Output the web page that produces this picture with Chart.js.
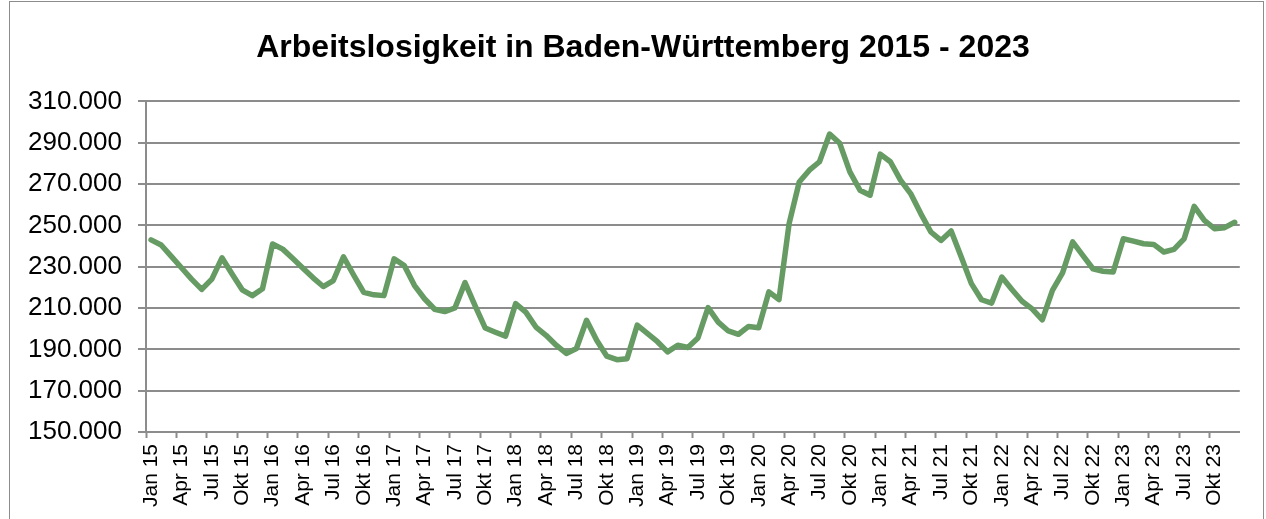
<!DOCTYPE html>
<html>
<head>
<meta charset="utf-8">
<script src="https://cdn.jsdelivr.net/npm/chart.js@4/dist/chart.umd.min.js"></script>
<style>
  body { margin: 0; background: #fff; }
  #rahmen { position: absolute; left: 9px; top: 1px; width: 1253px; height: 530px; border: 1px solid #8c8c8c; }
  #wrap { position: absolute; left: 0; top: 0; width: 1266px; height: 519px; }
</style>
</head>
<body>
<div id="rahmen"></div>
<div id="wrap"><canvas id="myChart" width="1266" height="519"></canvas></div>
<script>
// Monate und Jahre für die Kategorien
var monate = ['Jan', 'Feb', 'Mär', 'Apr', 'Mai', 'Jun', 'Jul', 'Aug', 'Sep', 'Okt', 'Nov', 'Dez'];
var jahre = ['15', '16', '17', '18', '19', '20', '21', '22', '23'];

// Arbeitslose pro Monat
var werte2015 = [243000, 240500, 235000, 229500, 224000, 219000, 224000, 234300, 226500, 218800, 216000, 219300];
var werte2016 = [241000, 238500, 234000, 229300, 224600, 220400, 223300, 234800, 226000, 217600, 216400, 216000];
var werte2017 = [233800, 230600, 221000, 214500, 209400, 208300, 210000, 222300, 211000, 200300, 198300, 196400];
var werte2018 = [212100, 208000, 200800, 196800, 192000, 188000, 190400, 204100, 194400, 186700, 185000, 185500];
var werte2019 = [201700, 197700, 193700, 188800, 192000, 190900, 195500, 210200, 203200, 198900, 197300, 201100];
var werte2020 = [200500, 217800, 214100, 250800, 271000, 276700, 280800, 294200, 289700, 275900, 267000, 264600];
var werte2021 = [284500, 280800, 271900, 265400, 255700, 246800, 242700, 247300, 234700, 221800, 214000, 212400];
var werte2022 = [225000, 219000, 213300, 209600, 204300, 218500, 227000, 242000, 235500, 229000, 227800, 227400];
var werte2023 = [243500, 242400, 241100, 240800, 237100, 238400, 243500, 259200, 252400, 248400, 248900, 251500];

// y-Achse
var yMin = 150000;
var yMax = 310000;
var yStep = 20000;

var labels = [];
jahre.forEach(function (j) {
  monate.forEach(function (m) { labels.push(m + ' ' + j); });
});
var werte = [].concat(werte2015, werte2016, werte2017, werte2018, werte2019,
  werte2020, werte2021, werte2022, werte2023);

function tausender(v) {
  return String(v).replace(/\B(?=(\d{3})+(?!\d))/g, '.');
}

var grau = '#8c8c8c';
var schrift = 'Liberation Sans, Arial, sans-serif';

// Titel etwas nach rechts schieben (wie im Original)
var titelVersatz = {
  id: 'titelVersatz',
  afterLayout: function (chart) {
    var t = chart.titleBlock;
    if (t) { t.left += 38; t.width = t.right - t.left; }
  }
};

var data = {
  labels: labels,
  datasets: [{
    label: 'Arbeitslose',
    data: werte,
    borderColor: 'rgb(102,155,100)',
    backgroundColor: 'rgb(102,155,100)',
    borderWidth: 5.5,
    tension: 0,
    pointRadius: 0,
    borderJoinStyle: 'round',
    borderCapStyle: 'round'
  }]
};

var options = {
  responsive: false,
  animation: false,
  layout: { padding: { top: 0, right: 18, bottom: 0, left: 0 } },
  plugins: {
    legend: { display: false },
    tooltip: { enabled: false },
    title: {
      display: true,
      text: 'Arbeitslosigkeit in Baden-Württemberg 2015 - 2023',
      color: '#000',
      font: { family: schrift, size: 32, weight: 'bold', lineHeight: 1.2 },
      padding: { top: 29, bottom: 34 }
    }
  },
  scales: {
    x: {
      offset: true,
      grid: {
        offset: true,
        drawOnChartArea: false,
        drawTicks: true,
        tickLength: 6,
        tickWidth: 2,
        tickColor: function (ctx) { return ctx.index % 3 === 0 ? grau : 'rgba(0,0,0,0)'; }
      },
      border: { color: grau, width: 2 },
      ticks: {
        autoSkip: false,
        minRotation: 90,
        maxRotation: 90,
        padding: 6,
        color: '#000',
        font: { family: schrift, size: 21 },
        callback: function (val, i) { return i % 3 === 0 ? labels[i] : ''; }
      },
      afterFit: function (s) { s.height = 87; }
    },
    y: {
      min: yMin,
      max: yMax,
      grid: { color: grau, lineWidth: 2, tickLength: 8 },
      border: { color: grau, width: 2 },
      ticks: {
        stepSize: yStep,
        padding: 16,
        color: '#000',
        font: { family: schrift, size: 26 },
        callback: function (v) { return tausender(v); }
      },
      afterFit: function (s) { s.width = 146; }
    }
  }
};

var ctx = document.getElementById('myChart').getContext('2d');
var myChart = new Chart(ctx, {
  type: 'line',
  data: data,
  options: options,
  plugins: [titelVersatz]
});
</script>
</body>
</html>
